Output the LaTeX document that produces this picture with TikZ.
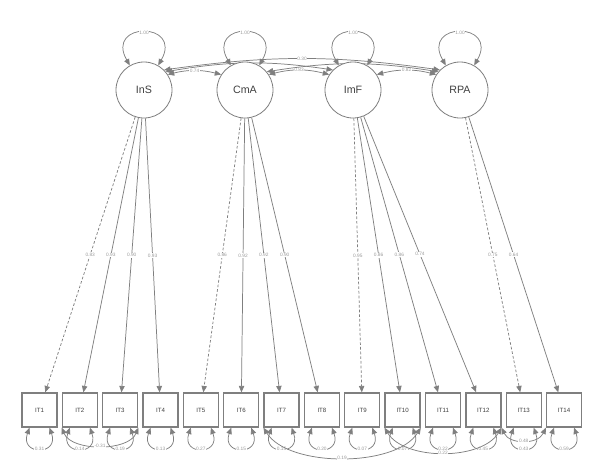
\documentclass[tikz,border=0pt]{standalone}
\usepackage{fontspec}
\setmainfont{Liberation Sans}
\usetikzlibrary{arrows.meta,calc,backgrounds}
\definecolor{edgec}{HTML}{7F7F7F}
\definecolor{labc}{HTML}{9A9A9A}
\definecolor{namec}{HTML}{404040}
\tikzset{
  lat/.style={circle,draw=edgec,line width=0.6pt,fill=white,minimum size=42pt,inner sep=0pt,
    font=\fontsize{8}{9}\selectfont,text=namec},
  obs/.style={rectangle,draw=edgec,line width=1pt,fill=white,minimum width=26.25pt,
    minimum height=25.5pt,inner sep=0pt,font=\fontsize{4.6}{5}\selectfont,text=namec},
  semtip/.tip={Triangle[length=4.8pt,width=4pt]},
  load/.style={draw=edgec,line width=0.55pt,-{semtip}},
  fixload/.style={load,dash pattern=on 2pt off 1.5pt},
  loopl/.style={draw=edgec,line width=0.55pt,{semtip}-{semtip}},
  cov/.style={draw=edgec,line width=0.55pt,{semtip}-{semtip}},
  lbl/.style={fill=white,inner sep=0.5pt,font=\fontsize{3.6}{4}\selectfont,text=labc}
}
\begin{document}
\begin{tikzpicture}[x=0.75pt,y=-0.75pt]
\useasboundingbox (0,0) rectangle (600,472);
% latent variables
\node[lat] (InS) at (144,90) {InS};
\node[lat] (CmA) at (245,90) {CmA};
\node[lat] (ImF) at (353,90) {ImF};
\node[lat] (RPA) at (460,90) {RPA};
% indicators
\foreach \i in {1,...,14}{
  \node[obs] (IT\i) at ({39.5+40.35*(\i-1)},410) {IT\i};
}
\begin{scope}[on background layer]
\fill[white] (0,0) rectangle (600,472);
% latent variances
\foreach \n in {InS,CmA,ImF,RPA}{
  \draw[loopl] (\n.120) .. controls +(-25,-44) and +(25,-44) .. (\n.60) node[lbl,pos=0.5]{1.00};
}
% latent covariances
\draw[cov] (InS.40) to[bend left=9] (ImF.135);
\draw[cov] (CmA.40) to[bend left=9] (RPA.140);
\draw[cov] (InS.45) to[bend left=8] node[lbl]{0.30} (RPA.135);
\draw[cov] (InS.33) to[bend left=14] node[lbl]{0.74} (CmA.147);
\draw[cov] (CmA.33) to[bend left=14] node[lbl]{0.83} (ImF.147);
\draw[cov] (ImF.33) to[bend left=14] node[lbl]{0.82} (RPA.147);
% loadings
\draw[fixload] (InS) -- (IT1) node[lbl,pos=0.5]{0.83};
\draw[load] (InS) -- (IT2) node[lbl,pos=0.5]{0.93};
\draw[load] (InS) -- (IT3) node[lbl,pos=0.5]{0.90};
\draw[load] (InS) -- (IT4) node[lbl,pos=0.5]{0.93};
\draw[fixload] (CmA) -- (IT5) node[lbl,pos=0.5]{0.86};
\draw[load] (CmA) -- (IT6) node[lbl,pos=0.5]{0.92};
\draw[load] (CmA) -- (IT7) node[lbl,pos=0.5]{0.92};
\draw[load] (CmA) -- (IT8) node[lbl,pos=0.5]{0.90};
\draw[fixload] (ImF) -- (IT9) node[lbl,pos=0.5]{0.95};
\draw[load] (ImF) -- (IT10) node[lbl,pos=0.5]{0.86};
\draw[load] (ImF) -- (IT11) node[lbl,pos=0.5]{0.86};
\draw[load] (ImF) -- (IT12) node[lbl,pos=0.5]{0.74};
\draw[fixload] (RPA) -- (IT13) node[lbl,pos=0.5]{0.75};
\draw[load] (RPA) -- (IT14) node[lbl,pos=0.5]{0.64};
% residual variances
\foreach \i/\v in {1/0.31,2/0.14,3/0.19,4/0.13,5/0.27,6/0.15,7/0.15,8/0.20,9/0.07,10/0.07,11/0.22,12/0.45,13/0.43,14/0.59}{
  \draw[loopl] ($(IT\i.south)+(-10,0)$) .. controls +(-10,28) and +(10,28) .. ($(IT\i.south)+(10,0)$) node[lbl,pos=0.5]{\v};
}
% residual covariances
\draw[cov] (IT2.south west) .. controls +(10,24) and +(-10,24) .. (IT3.south east) node[lbl,pos=0.5]{-0.31};
\draw[cov] (IT7.south west) .. controls +(25,40) and +(-25,40) .. (IT10.south east) node[lbl,pos=0.5]{0.19};
\draw[cov] (IT10.south west) .. controls +(20,33) and +(-20,33) .. (IT12.south east) node[lbl,pos=0.5]{0.22};
\draw[cov] (IT12.south east) .. controls +(8,17) and +(-8,17) .. (IT14.south west) node[lbl,pos=0.5]{0.48};
\end{scope}
\end{tikzpicture}
\end{document}
